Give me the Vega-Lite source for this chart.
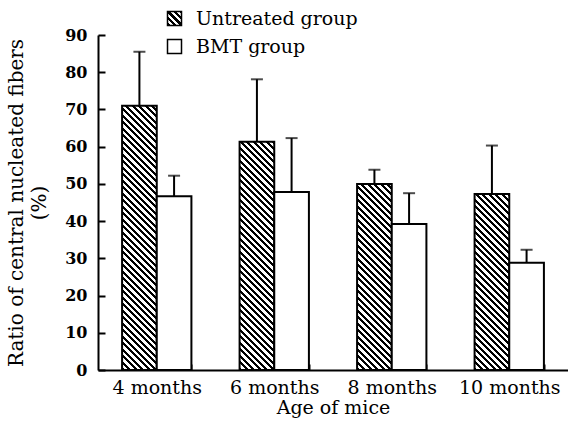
{
  "$schema": "https://vega.github.io/schema/vega-lite/v6.json",
  "autosize": "none",
  "width": 470,
  "height": 335,
  "padding": {"left": 98, "top": 35, "right": 0, "bottom": 53},
  "background": "white",
  "params": [
    {"name": "hatch", "value": [
      {"offset":0,"color":"#000"},{"offset":0.01,"color":"#000"},{"offset":0.01,"color":"#fff"},{"offset":0.02,"color":"#fff"},
      {"offset":0.02,"color":"#000"},{"offset":0.03,"color":"#000"},{"offset":0.03,"color":"#fff"},{"offset":0.04,"color":"#fff"},
      {"offset":0.04,"color":"#000"},{"offset":0.05,"color":"#000"},{"offset":0.05,"color":"#fff"},{"offset":0.06,"color":"#fff"},
      {"offset":0.06,"color":"#000"},{"offset":0.07,"color":"#000"},{"offset":0.07,"color":"#fff"},{"offset":0.08,"color":"#fff"},
      {"offset":0.08,"color":"#000"},{"offset":0.09,"color":"#000"},{"offset":0.09,"color":"#fff"},{"offset":0.1,"color":"#fff"},
      {"offset":0.1,"color":"#000"},{"offset":0.11,"color":"#000"},{"offset":0.11,"color":"#fff"},{"offset":0.12,"color":"#fff"},
      {"offset":0.12,"color":"#000"},{"offset":0.13,"color":"#000"},{"offset":0.13,"color":"#fff"},{"offset":0.14,"color":"#fff"},
      {"offset":0.14,"color":"#000"},{"offset":0.15,"color":"#000"},{"offset":0.15,"color":"#fff"},{"offset":0.16,"color":"#fff"},
      {"offset":0.16,"color":"#000"},{"offset":0.17,"color":"#000"},{"offset":0.17,"color":"#fff"},{"offset":0.18,"color":"#fff"},
      {"offset":0.18,"color":"#000"},{"offset":0.19,"color":"#000"},{"offset":0.19,"color":"#fff"},{"offset":0.2,"color":"#fff"},
      {"offset":0.2,"color":"#000"},{"offset":0.21,"color":"#000"},{"offset":0.21,"color":"#fff"},{"offset":0.22,"color":"#fff"},
      {"offset":0.22,"color":"#000"},{"offset":0.23,"color":"#000"},{"offset":0.23,"color":"#fff"},{"offset":0.24,"color":"#fff"},
      {"offset":0.24,"color":"#000"},{"offset":0.25,"color":"#000"},{"offset":0.25,"color":"#fff"},{"offset":0.26,"color":"#fff"},
      {"offset":0.26,"color":"#000"},{"offset":0.27,"color":"#000"},{"offset":0.27,"color":"#fff"},{"offset":0.28,"color":"#fff"},
      {"offset":0.28,"color":"#000"},{"offset":0.29,"color":"#000"},{"offset":0.29,"color":"#fff"},{"offset":0.3,"color":"#fff"},
      {"offset":0.3,"color":"#000"},{"offset":0.31,"color":"#000"},{"offset":0.31,"color":"#fff"},{"offset":0.32,"color":"#fff"},
      {"offset":0.32,"color":"#000"},{"offset":0.33,"color":"#000"},{"offset":0.33,"color":"#fff"},{"offset":0.34,"color":"#fff"},
      {"offset":0.34,"color":"#000"},{"offset":0.35,"color":"#000"},{"offset":0.35,"color":"#fff"},{"offset":0.36,"color":"#fff"},
      {"offset":0.36,"color":"#000"},{"offset":0.37,"color":"#000"},{"offset":0.37,"color":"#fff"},{"offset":0.38,"color":"#fff"},
      {"offset":0.38,"color":"#000"},{"offset":0.39,"color":"#000"},{"offset":0.39,"color":"#fff"},{"offset":0.4,"color":"#fff"},
      {"offset":0.4,"color":"#000"},{"offset":0.41,"color":"#000"},{"offset":0.41,"color":"#fff"},{"offset":0.42,"color":"#fff"},
      {"offset":0.42,"color":"#000"},{"offset":0.43,"color":"#000"},{"offset":0.43,"color":"#fff"},{"offset":0.44,"color":"#fff"},
      {"offset":0.44,"color":"#000"},{"offset":0.45,"color":"#000"},{"offset":0.45,"color":"#fff"},{"offset":0.46,"color":"#fff"},
      {"offset":0.46,"color":"#000"},{"offset":0.47,"color":"#000"},{"offset":0.47,"color":"#fff"},{"offset":0.48,"color":"#fff"},
      {"offset":0.48,"color":"#000"},{"offset":0.49,"color":"#000"},{"offset":0.49,"color":"#fff"},{"offset":0.5,"color":"#fff"},
      {"offset":0.5,"color":"#000"},{"offset":0.51,"color":"#000"},{"offset":0.51,"color":"#fff"},{"offset":0.52,"color":"#fff"},
      {"offset":0.52,"color":"#000"},{"offset":0.53,"color":"#000"},{"offset":0.53,"color":"#fff"},{"offset":0.54,"color":"#fff"},
      {"offset":0.54,"color":"#000"},{"offset":0.55,"color":"#000"},{"offset":0.55,"color":"#fff"},{"offset":0.56,"color":"#fff"},
      {"offset":0.56,"color":"#000"},{"offset":0.57,"color":"#000"},{"offset":0.57,"color":"#fff"},{"offset":0.58,"color":"#fff"},
      {"offset":0.58,"color":"#000"},{"offset":0.59,"color":"#000"},{"offset":0.59,"color":"#fff"},{"offset":0.6,"color":"#fff"},
      {"offset":0.6,"color":"#000"},{"offset":0.61,"color":"#000"},{"offset":0.61,"color":"#fff"},{"offset":0.62,"color":"#fff"},
      {"offset":0.62,"color":"#000"},{"offset":0.63,"color":"#000"},{"offset":0.63,"color":"#fff"},{"offset":0.64,"color":"#fff"},
      {"offset":0.64,"color":"#000"},{"offset":0.65,"color":"#000"},{"offset":0.65,"color":"#fff"},{"offset":0.66,"color":"#fff"},
      {"offset":0.66,"color":"#000"},{"offset":0.67,"color":"#000"},{"offset":0.67,"color":"#fff"},{"offset":0.68,"color":"#fff"},
      {"offset":0.68,"color":"#000"},{"offset":0.69,"color":"#000"},{"offset":0.69,"color":"#fff"},{"offset":0.7,"color":"#fff"},
      {"offset":0.7,"color":"#000"},{"offset":0.71,"color":"#000"},{"offset":0.71,"color":"#fff"},{"offset":0.72,"color":"#fff"},
      {"offset":0.72,"color":"#000"},{"offset":0.73,"color":"#000"},{"offset":0.73,"color":"#fff"},{"offset":0.74,"color":"#fff"},
      {"offset":0.74,"color":"#000"},{"offset":0.75,"color":"#000"},{"offset":0.75,"color":"#fff"},{"offset":0.76,"color":"#fff"},
      {"offset":0.76,"color":"#000"},{"offset":0.77,"color":"#000"},{"offset":0.77,"color":"#fff"},{"offset":0.78,"color":"#fff"},
      {"offset":0.78,"color":"#000"},{"offset":0.79,"color":"#000"},{"offset":0.79,"color":"#fff"},{"offset":0.8,"color":"#fff"},
      {"offset":0.8,"color":"#000"},{"offset":0.81,"color":"#000"},{"offset":0.81,"color":"#fff"},{"offset":0.82,"color":"#fff"},
      {"offset":0.82,"color":"#000"},{"offset":0.83,"color":"#000"},{"offset":0.83,"color":"#fff"},{"offset":0.84,"color":"#fff"},
      {"offset":0.84,"color":"#000"},{"offset":0.85,"color":"#000"},{"offset":0.85,"color":"#fff"},{"offset":0.86,"color":"#fff"},
      {"offset":0.86,"color":"#000"},{"offset":0.87,"color":"#000"},{"offset":0.87,"color":"#fff"},{"offset":0.88,"color":"#fff"},
      {"offset":0.88,"color":"#000"},{"offset":0.89,"color":"#000"},{"offset":0.89,"color":"#fff"},{"offset":0.9,"color":"#fff"},
      {"offset":0.9,"color":"#000"},{"offset":0.91,"color":"#000"},{"offset":0.91,"color":"#fff"},{"offset":0.92,"color":"#fff"},
      {"offset":0.92,"color":"#000"},{"offset":0.93,"color":"#000"},{"offset":0.93,"color":"#fff"},{"offset":0.94,"color":"#fff"}
    ]}
  ],
  "data": {"values": [
    {"age": "4 months", "group": "Untreated group", "value": 71, "upper": 85.5},
    {"age": "4 months", "group": "BMT group", "value": 46.7, "upper": 52.2},
    {"age": "6 months", "group": "Untreated group", "value": 61.3, "upper": 78.1},
    {"age": "6 months", "group": "BMT group", "value": 47.8, "upper": 62.3},
    {"age": "8 months", "group": "Untreated group", "value": 50, "upper": 53.8},
    {"age": "8 months", "group": "BMT group", "value": 39.2, "upper": 47.5},
    {"age": "10 months", "group": "Untreated group", "value": 47.3, "upper": 60.3},
    {"age": "10 months", "group": "BMT group", "value": 28.8, "upper": 32.3}
  ]},
  "encoding": {
    "x": {
      "field": "age", "type": "nominal",
      "sort": ["4 months", "6 months", "8 months", "10 months"],
      "scale": {"paddingInner": 0.41, "paddingOuter": 0.205},
      "axis": {
        "title": "Age of mice", "labelAngle": 0, "tickBand": "extent",
        "tickSize": -6, "labelPadding": 14, "labelFontSize": 19,
        "titleFontSize": 19, "titleFontWeight": "normal", "titlePadding": 1
      }
    },
    "xOffset": {
      "field": "group", "type": "nominal",
      "sort": ["Untreated group", "BMT group"],
      "scale": {"paddingInner": 0, "paddingOuter": 0}
    }
  },
  "layer": [
    {
      "mark": {"type": "bar", "stroke": "black", "strokeWidth": 2},
      "encoding": {
        "y": {
          "field": "value", "type": "quantitative",
          "scale": {"domain": [0, 90], "nice": false},
          "axis": {"values": [0, 10, 20, 30, 40, 50, 60, 70, 80, 90], "title": ["Ratio of central nucleated fibers", "(%)"]}
        },
        "fill": {
          "field": "group", "type": "nominal",
          "scale": {
            "domain": ["Untreated group", "BMT group"],
            "range": [{"expr": "{gradient:'linear',x1:0,y1:1,x2:11.6,y2:-10.6,stops:hatch}"}, "#ffffff"]
          },
          "condition": {
            "test": "datum.group === 'Untreated group'",
            "value": {"expr": "{gradient:'linear',x1:0,y1:1,x2:bandwidth('xOffset')*325/(pow(bandwidth('xOffset'),2)+pow(scale('y',0)-scale('y',datum.value),2)),y2:1-(scale('y',0)-scale('y',datum.value))*325/(pow(bandwidth('xOffset'),2)+pow(scale('y',0)-scale('y',datum.value),2)),stops:hatch}"}
          },
          "legend": {
            "orient": "none", "legendX": 67, "legendY": -26, "title": null,
            "symbolType": "square", "symbolSize": 196, "symbolStrokeColor": "black", "symbolStrokeWidth": 1.5,
            "labelFontSize": 19, "labelOffset": 12, "rowPadding": 7, "labelColor": "black", "labelLimit": 400
          }
        }
      }
    },
    {
      "mark": {"type": "rule", "color": "black", "strokeWidth": 2},
      "encoding": {
        "y": {"field": "value", "type": "quantitative",
          "axis": {"values": [0, 10, 20, 30, 40, 50, 60, 70, 80, 90], "title": ["Ratio of central nucleated fibers", "(%)"]}},
        "y2": {"field": "upper"}
      }
    },
    {
      "mark": {"type": "tick", "color": "black", "size": 12, "thickness": 2},
      "encoding": {
        "y": {"field": "upper", "type": "quantitative",
          "axis": {"values": [0, 10, 20, 30, 40, 50, 60, 70, 80, 90], "title": ["Ratio of central nucleated fibers", "(%)"]}}
      }
    }
  ],
  "config": {
    "view": {"stroke": null},
    "font": "DejaVu Serif",
    "axis": {
      "grid": false, "domainColor": "black", "domainWidth": 2, "tickColor": "black", "tickWidth": 2,
      "labelColor": "black", "titleColor": "black", "labelFont": "DejaVu Serif", "titleFont": "DejaVu Serif"
    },
    "axisY": {
      "tickSize": -7, "labelPadding": 18, "labelFontSize": 16, "labelFontWeight": "bold",
      "titleFontSize": 20, "titleFontWeight": "normal", "titleLineHeight": 23, "titlePadding": 15
    },
    "legend": {"labelFont": "DejaVu Serif"}
  }
}
